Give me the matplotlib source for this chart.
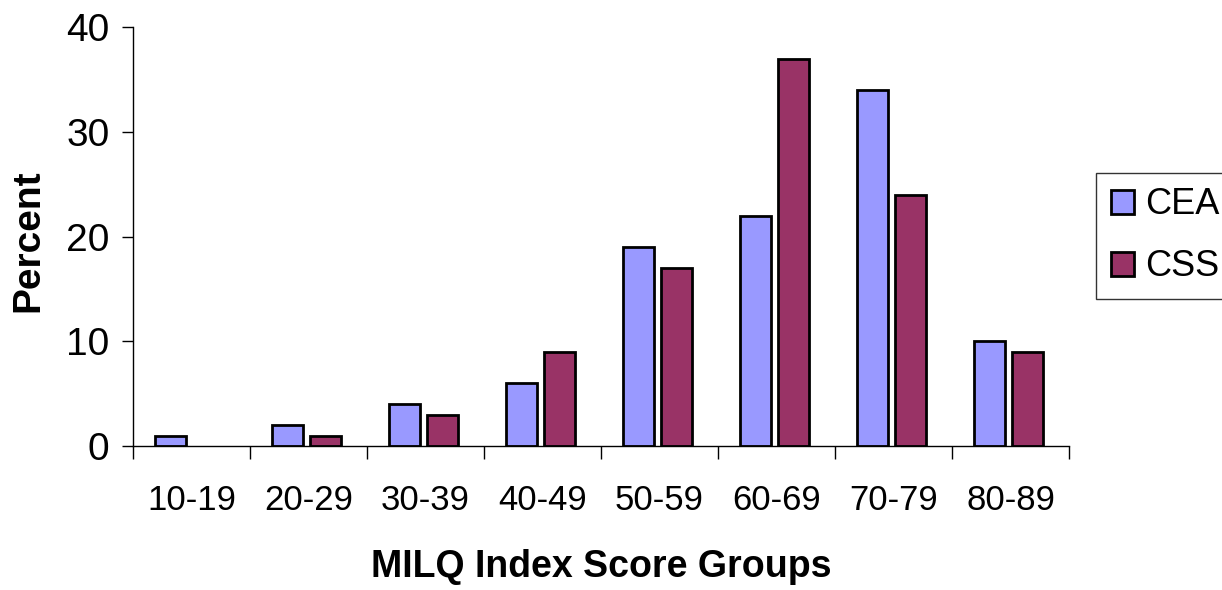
import numpy as np
import matplotlib.pyplot as plt

groups = ['10-19', '20-29', '30-39', '40-49', '50-59', '60-69', '70-79', '80-89']
cea = [1, 2, 4, 6, 19, 22, 34, 10]
css = [np.nan, 1, 3, 9, 17, 37, 24, 9]  # no CSS bar in the 10-19 group

plt.rcParams['font.family'] = ['Liberation Sans', 'DejaVu Sans']

fig = plt.figure(figsize=(12.22, 5.90), dpi=100)
ax = fig.add_axes([0.1088, 0.244, 0.766, 0.710])

x = np.arange(len(groups))
w = 0.265
ax.bar(x - 0.18, cea, width=w, color='#9999FF', edgecolor='black', linewidth=2, label='CEA')
ax.bar(x + 0.145, css, width=w, color='#993366', edgecolor='black', linewidth=2, label='CSS')

ax.set_xlim(-0.5, len(groups) - 0.5)
ax.set_ylim(0, 40)
ax.set_yticks([0, 10, 20, 30, 40])
ax.tick_params(axis='y', labelsize=28, length=8, width=1, pad=9, direction='out')

# category boundaries carry the tick marks, labels sit at the centres
ax.set_xticks(np.arange(-0.5, len(groups)), labels=[])
ax.set_xticks(x, labels=groups, minor=True)
ax.tick_params(axis='x', which='major', length=9, width=1, direction='out')
ax.tick_params(axis='x', which='minor', length=0, labelsize=25, pad=27)

for s in ['top', 'right']:
    ax.spines[s].set_visible(False)
for s in ['left', 'bottom']:
    ax.spines[s].set_linewidth(1)

ax.set_ylabel('Percent', fontsize=28, fontweight='bold', va='center')
ax.yaxis.set_label_coords(-0.112, 0.49)
ax.set_xlabel('MILQ Index Score Groups', fontsize=27, fontweight='bold', va='center')
ax.xaxis.set_label_coords(0.5, -0.288)

leg = ax.legend(loc='upper left', bbox_to_anchor=(0.897, 0.707), bbox_transform=fig.transFigure,
                borderaxespad=0, fontsize=26, frameon=True, fancybox=False,
                handlelength=0.65, handleheight=0.65, handletextpad=0.3,
                labelspacing=0.75, borderpad=0.4)
leg.get_frame().set_edgecolor('black')
leg.get_frame().set_linewidth(1)

fig.savefig('out.png', dpi=100)
